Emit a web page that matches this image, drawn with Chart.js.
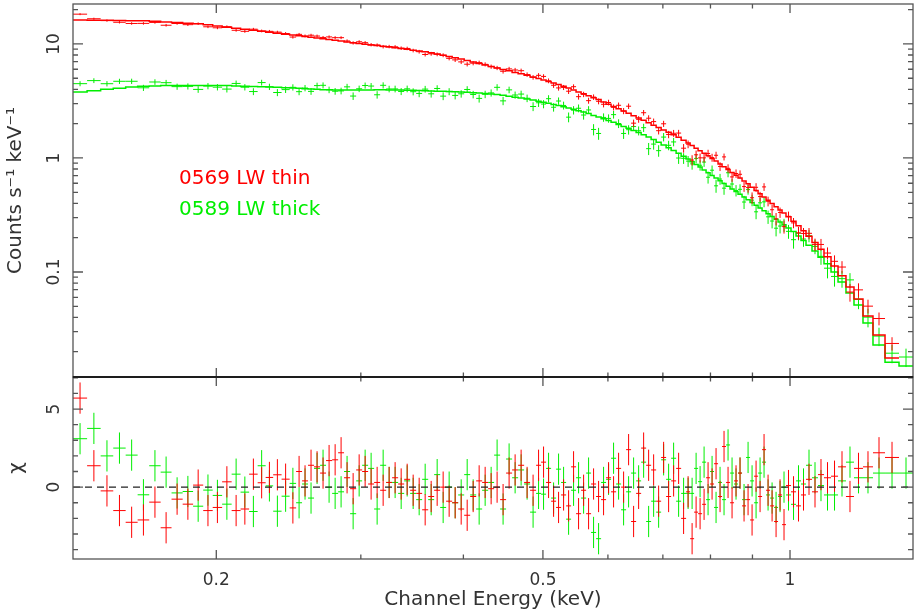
<!DOCTYPE html>
<html><head><meta charset="utf-8">
<script src="https://cdn.jsdelivr.net/npm/chart.js@4.4.0/dist/chart.umd.min.js"></script>
<style>
html,body{margin:0;padding:0;background:#fff;}
#wrap{position:relative;width:916px;height:616px;overflow:hidden;background:#fff;}
#topc{position:absolute;left:0;top:0;}
#botc{position:absolute;left:0;top:370px;}
</style></head><body>
<div id="wrap">
<canvas id="topc" width="916" height="380"></canvas>
<canvas id="botc" width="916" height="246"></canvas>
</div>
<script>
// ---- channel grid (bin edges, keV) ----
const binEdges = [
0.1338,0.1392,0.1446,0.1498,0.1551,0.1604,0.1657,0.1711,0.1764,0.1820,0.1874,0.1928,0.1980,0.2033,0.2088,0.2141,0.2193,0.2246,0.2297,0.2346,0.2402,0.2457,0.2502,
0.2544,0.2587,0.2631,0.2676,0.2721,0.2768,0.2815,0.2862,0.2911,0.2961,0.3011,0.3062,0.3114,0.3167,0.3221,0.3275,0.3331,0.3388,0.3445,0.3504,0.3563,0.3624,0.3685,0.3748,0.3811,0.3876,0.3942,0.4009,0.4077,0.4146,0.4216,0.4288,0.4360,0.4434,0.4509,0.4586,0.4664,0.4743,0.4823,0.4905,
0.4974,0.5044,0.5116,0.5188,0.5261,0.5336,0.5411,0.5487,0.5565,0.5644,0.5723,0.5804,0.5886,0.5969,0.6053,0.6139,0.6226,0.6314,0.6403,0.6494,0.6586,0.6679,0.6773,0.6869,0.6966,0.7064,0.7164,0.7265,0.7368,0.7471,
0.7556,0.7641,0.7727,0.7814,0.7902,0.7991,0.8081,0.8172,0.8264,0.8357,0.8452,0.8547,0.8643,0.8741,0.8840,0.8940,0.9041,0.9143,0.9246,0.9350,0.9456,0.9563,0.9670,0.9779,0.9888,
1.0028,1.0170,1.0313,1.0459,1.0636,1.0817,1.1000,1.1219,1.1442,1.1700,1.1966,1.2272,1.2621,1.3054,1.3577,1.4120];

// ---- 0569 LW thin (red) ----
const thinModel = [
16.21,16.14,16.11,16.04,15.98,15.95,15.82,15.60,15.41,15.19,15.01,14.71,14.36,14.04,13.73,13.43,13.16,12.90,12.67,12.41,12.17,11.97,
11.78,11.61,11.43,11.27,11.09,10.93,10.75,10.60,10.41,10.25,10.08,9.92,9.78,9.68,9.53,9.39,9.24,9.11,8.97,8.82,8.68,8.54,8.39,8.17,7.96,7.75,7.55,7.37,7.17,6.95,6.74,6.54,6.35,6.16,5.97,5.81,5.63,5.48,5.31,5.14,
4.97,4.82,4.68,4.54,4.40,4.26,4.10,3.95,3.79,3.65,3.51,3.38,3.25,3.10,2.96,2.83,2.70,2.58,2.47,2.35,2.24,2.14,2.04,1.94,1.85,1.76,1.68,1.60,1.52,1.43,
1.351,1.284,1.218,1.158,1.099,1.045,0.991,0.939,0.887,0.837,0.791,0.747,0.706,0.666,0.629,0.593,0.555,0.519,0.486,0.454,0.425,0.398,0.373,0.350,0.329,
0.305,0.278,0.254,0.2305,0.206,0.181,0.158,0.136,0.113,0.0925,0.0738,0.0579,0.0411,0.0280,0.0176,null];
const thinChi = [
5.7,1.37,-0.24,-1.5,-2.25,-2.1,-0.96,-2.6,-0.77,-1.09,0.13,-1.5,-1.3,0.34,-1.5,-1.4,0.83,0.28,0.62,0.79,0.51,-1.33,
1.0,0.4,1.4,1.3,0.9,1.7,1.75,2.2,0.6,-0.1,1.1,1.0,0.2,0.3,-0.2,0.3,0.6,0.2,0.5,-0.2,-0.4,-1.45,-0.6,-0.2,0.0,-0.9,-1.0,-1.4,-1.8,-0.6,0.4,0.3,-0.1,0.0,-0.8,0.9,1.1,1.4,0.3,-0.2,
1.4,1.6,0.3,-0.9,-1.3,-0.5,-1.2,1.3,-1.7,-0.2,-1.7,0.2,-0.6,-0.8,0.6,-0.3,1.2,0.0,2.4,-2.2,-0.4,2.5,1.4,1.1,-0.9,1.9,-0.6,0.4,1.2,-2.0,
-0.3,-3.3,-1.6,-1.7,-1.1,0.6,0.2,1.5,-0.6,2.6,0.3,-1.0,0.4,0.9,-1.2,-0.8,-2.1,0.7,-0.6,2.4,-0.2,-1.2,-2.2,-0.5,-2.4,
0.1,-0.3,-1.2,-0.5,0.5,-0.3,0.8,0.6,0.7,1.3,-0.6,1.2,1.3,2.2,1.9,null];
const thinErr = [
0.022,0.022,0.023,0.023,0.024,0.024,0.025,0.025,0.025,0.026,0.026,0.026,0.027,0.027,0.027,0.028,0.028,0.028,0.029,0.029,0.029,0.030,
0.030,0.030,0.031,0.031,0.031,0.032,0.032,0.032,0.033,0.033,0.033,0.034,0.034,0.034,0.035,0.035,0.035,0.036,0.036,0.036,0.037,0.037,0.038,0.038,0.039,0.039,0.040,0.040,0.041,0.041,0.042,0.042,0.043,0.043,0.044,0.044,0.045,0.045,0.046,0.046,
0.048,0.048,0.049,0.049,0.050,0.050,0.051,0.052,0.053,0.054,0.055,0.056,0.057,0.058,0.059,0.060,0.061,0.062,0.063,0.064,0.065,0.066,0.067,0.068,0.069,0.070,0.071,0.072,0.073,0.074,
0.076,0.077,0.078,0.079,0.080,0.081,0.082,0.083,0.084,0.085,0.086,0.087,0.088,0.089,0.090,0.091,0.092,0.093,0.094,0.095,0.096,0.097,0.098,0.099,0.100,
0.10,0.10,0.11,0.11,0.12,0.12,0.13,0.13,0.14,0.15,0.16,0.17,0.17,0.18,0.18,null];

// ---- 0589 LW thick (green) ----
const thickModel = [
3.78,3.89,4.00,4.09,4.19,4.25,4.28,4.32,4.32,4.32,4.32,4.32,4.32,4.31,4.28,4.26,4.24,4.22,4.19,4.16,4.13,4.10,
4.08,4.05,4.02,4.00,3.97,3.96,3.95,3.95,3.94,3.94,3.94,3.95,3.95,3.96,3.96,3.95,3.95,3.94,3.93,3.92,3.90,3.88,3.87,3.85,3.84,3.82,3.81,3.79,3.77,3.74,3.71,3.67,3.64,3.61,3.54,3.48,3.41,3.35,3.29,3.23,
3.15,3.08,3.02,2.95,2.89,2.82,2.74,2.67,2.60,2.53,2.45,2.36,2.29,2.21,2.13,2.06,1.97,1.89,1.82,1.74,1.67,1.60,1.53,1.45,1.375,1.30,1.23,1.165,1.10,1.036,
0.979,0.927,0.878,0.832,0.784,0.743,0.703,0.667,0.632,0.598,0.566,0.535,0.507,0.480,0.454,0.430,0.407,0.384,0.364,0.344,0.325,0.307,0.290,0.274,0.259,
0.243,0.227,0.207,0.189,0.172,0.153,0.135,0.118,0.0999,0.0816,0.0654,0.0513,0.0357,0.0229,0.0162,0.0150];
const thickChi = [
3.1,3.76,2.0,2.5,2.05,-0.49,1.37,0.96,-0.37,-0.28,-1.22,-0.19,-0.53,-1.09,0.83,-0.32,-1.56,1.37,0.08,-1.54,-0.58,0.24,
-1.0,0.2,-0.7,1.2,1.4,0.0,-0.4,-0.3,1.0,-1.7,0.4,1.4,1.2,-1.4,1.4,0.3,0.3,-0.4,0.4,-0.4,-0.8,0.5,-0.8,0.8,-1.3,0.0,-1.0,-0.5,0.8,-0.5,-1.4,-0.2,0.3,2.05,-1.4,1.8,0.6,1.1,0.2,-1.6,
-0.4,-0.45,1.2,-0.7,1.15,0.3,-2.05,-0.2,0.6,-0.7,0.9,-2.9,-3.3,0.3,0.5,1.85,0.2,-1.45,-0.3,0.9,0.4,1.6,-2.2,-0.9,-1.6,1.75,0.5,1.85,-0.9,-0.4,
-0.4,-0.4,1.2,0.35,1.6,-0.8,1.0,-1.3,0.3,-0.8,2.7,0.9,0.2,0.9,-0.8,1.9,0.4,-1.0,0.9,1.6,-0.5,-0.7,-1.3,-0.6,0.0,
-0.5,-1.1,0.4,0.2,1.4,0.6,0.1,-0.5,-0.5,0.4,1.6,0.6,0.6,0.9,0.9,0.9];
const thickErr = [
0.060,0.060,0.060,0.060,0.060,0.060,0.061,0.061,0.061,0.061,0.062,0.062,0.062,0.062,0.063,0.063,0.063,0.063,0.064,0.064,0.064,0.064,
0.065,0.065,0.065,0.065,0.066,0.066,0.066,0.066,0.067,0.067,0.067,0.067,0.068,0.068,0.068,0.068,0.069,0.069,0.069,0.069,0.070,0.070,0.070,0.071,0.071,0.071,0.072,0.072,0.072,0.073,0.073,0.074,0.074,0.075,0.075,0.076,0.076,0.077,0.077,0.078,
0.079,0.079,0.080,0.080,0.081,0.081,0.082,0.083,0.083,0.084,0.085,0.085,0.086,0.087,0.088,0.089,0.090,0.091,0.092,0.093,0.094,0.095,0.096,0.097,0.098,0.099,0.100,0.101,0.102,0.103,
0.105,0.106,0.107,0.108,0.109,0.110,0.111,0.112,0.113,0.114,0.115,0.116,0.117,0.118,0.119,0.120,0.121,0.122,0.123,0.124,0.125,0.126,0.127,0.128,0.130,
0.13,0.14,0.14,0.15,0.15,0.16,0.16,0.17,0.17,0.18,0.19,0.20,0.21,0.22,0.22,0.22];

// ---- axes ----
const xRange = [0.1338, 1.412];
const countRange = [0.012, 22.4];
const chiRange = [-4.6, 7.05];
const xMajor = [0.2, 0.5, 1];
const xMinor = [0.3, 0.4, 0.6, 0.7, 0.8, 0.9];
const countMajor = [0.1, 1, 10];
const countMinor = [0.02,0.03,0.04,0.05,0.06,0.07,0.08,0.09,0.2,0.3,0.4,0.5,0.6,0.7,0.8,0.9,2,3,4,5,6,7,8,9,20];
const chiMajor = [0, 5];
const chiMinor = [-4,-3,-2,-1,1,2,3,4,6,7];
const seriesNames = ['0569 LW thin', '0589 LW thick'];
const xTitle = 'Channel Energy (keV)';
const countTitle = 'Counts s\u207B\u00B9 keV\u207B\u00B9';
const chiTitle = '\u03C7';

const RED = '#ff0000', GREEN = '#00ee00', INK = '#333333', FRAME = '#555555';
const FONT = 'DejaVu Sans';

// ---- build point lists from the arrays ----
function centre(i){ return Math.sqrt(binEdges[i]*binEdges[i+1]); }
function crossPoints(vals, sig){
  const pts = [];
  for (let i=0;i<vals.length;i++){
    if (vals[i]==null) continue;
    const lo=binEdges[i], hi=binEdges[i+1], c=centre(i), v=vals[i], s=sig[i];
    pts.push({x:lo,y:v},{x:hi,y:v},{x:hi,y:null},{x:c,y:v-s},{x:c,y:v+s},{x:c,y:null});
  }
  return pts;
}
function stepPoints(vals){
  const pts = [];
  for (let i=0;i<vals.length;i++){
    if (vals[i]==null){ pts.push({x:binEdges[i],y:null}); continue; }
    pts.push({x:binEdges[i],y:vals[i]},{x:binEdges[i+1],y:vals[i]});
  }
  return pts;
}
function counts(model, chi, err){ return model.map((m,i)=> m==null?null: m*(1+chi[i]*err[i])); }
function sigmas(model, err){ return model.map((m,i)=> m==null?null: m*err[i]); }
const unitSig = thinChi.map(()=>1);

const thinCounts = counts(thinModel, thinChi, thinErr);
const thickCounts = counts(thickModel, thickChi, thickErr);

function lineDs(data, color, width, extra){
  return Object.assign({type:'line', data, borderColor:color, backgroundColor:color, borderWidth:width,
    pointRadius:0, pointHoverRadius:0, pointHitRadius:0, fill:false, tension:0, spanGaps:false}, extra||{});
}

function framePlugin(opt){
  return {
    id: 'pgframe',
    afterDraw(chart){
      const ctx = chart.ctx, a = chart.chartArea;
      const xs = chart.scales.x, ys = chart.scales.y;
      ctx.save();
      ctx.strokeStyle = FRAME; ctx.lineWidth = 1.3;
      ctx.strokeRect(a.left, a.top, a.right-a.left, a.bottom-a.top);
      ctx.beginPath();
      const xt = (v,len)=>{ const p=xs.getPixelForValue(v);
        ctx.moveTo(p,a.top); ctx.lineTo(p,a.top+len); ctx.moveTo(p,a.bottom); ctx.lineTo(p,a.bottom-len); };
      const yt = (v,len)=>{ const p=ys.getPixelForValue(v);
        ctx.moveTo(a.left,p); ctx.lineTo(a.left+len,p); ctx.moveTo(a.right,p); ctx.lineTo(a.right-len,p); };
      xMajor.forEach(v=>xt(v,9)); xMinor.forEach(v=>xt(v,4.5));
      opt.yMajor.forEach(v=>yt(v,10)); opt.yMinor.forEach(v=>yt(v,5));
      ctx.stroke();
      if (opt.divider){
        ctx.strokeStyle = '#111'; ctx.lineWidth = 1.6;
        ctx.beginPath();
        const y = opt.divider==='bottom'? a.bottom : a.top;
        ctx.moveTo(a.left,y); ctx.lineTo(a.right,y); ctx.stroke();
      }
      // rotated y tick labels
      ctx.fillStyle = INK; ctx.font = '17px "'+FONT+'"';
      ctx.textAlign = 'center'; ctx.textBaseline = 'middle';
      opt.yLabels.forEach(v=>{
        const p = ys.getPixelForValue(v);
        ctx.save(); ctx.translate(54.5, p); ctx.rotate(-Math.PI/2);
        ctx.fillText(String(v), 0, 0); ctx.restore();
      });
      if (opt.legend){
        ctx.font = '20px "'+FONT+'"'; ctx.textAlign='left'; ctx.textBaseline='alphabetic';
        ctx.fillStyle = RED; ctx.fillText(seriesNames[0], 179, 184);
        ctx.fillStyle = GREEN; ctx.fillText(seriesNames[1], 179, 215);
      }
      ctx.restore();
    }
  };
}

Chart.defaults.font.family = FONT;
Chart.defaults.color = INK;

// ---- top panel: spectra ----
new Chart(document.getElementById('topc'), {
  data: { datasets: [
    lineDs(crossPoints(thinCounts, sigmas(thinModel, thinErr)), RED, 1),
    lineDs(stepPoints(thinModel), RED, 1.5),
    lineDs(crossPoints(thickCounts, sigmas(thickModel, thickErr)), GREEN, 1),
    lineDs(stepPoints(thickModel), GREEN, 1.5)
  ]},
  options: {
    responsive:false, animation:false, events:[],
    layout:{padding:{top:4,right:3,bottom:3,left:0}},
    plugins:{legend:{display:false}, tooltip:{enabled:false}},
    scales:{
      x:{type:'logarithmic', display:false, min:xRange[0], max:xRange[1], bounds:'data'},
      y:{type:'logarithmic', min:countRange[0], max:countRange[1], bounds:'data',
         ticks:{display:false}, grid:{display:false}, border:{display:false},
         title:{display:true, text:countTitle, color:INK, font:{size:20, family:FONT}, padding:{top:4,bottom:0}},
         afterFit(s){ s.width = 73; }}
    }
  },
  plugins:[framePlugin({yMajor:countMajor, yMinor:countMinor, yLabels:countMajor, legend:true, divider:'bottom'})]
});

// ---- bottom panel: residuals ----
new Chart(document.getElementById('botc'), {
  data: { datasets: [
    lineDs([{x:xRange[0],y:0},{x:xRange[1],y:0}], '#222', 1.2, {borderDash:[7,5]}),
    lineDs(crossPoints(thinChi, unitSig), RED, 1),
    lineDs(crossPoints(thickChi, unitSig), GREEN, 1)
  ]},
  options: {
    responsive:false, animation:false, events:[],
    layout:{padding:{top:7,right:3,bottom:0,left:0}},
    plugins:{legend:{display:false}, tooltip:{enabled:false}},
    scales:{
      x:{type:'logarithmic', min:xRange[0], max:xRange[1], bounds:'data',
         grid:{display:false}, border:{display:false},
         afterBuildTicks(s){ s.ticks = xMajor.map(v=>({value:v})); },
         ticks:{autoSkip:false, maxRotation:0, minRotation:0, padding:3, color:INK, font:{size:17, family:FONT},
                callback:(v)=>String(v)},
         title:{display:true, text:xTitle, color:INK, font:{size:20, family:FONT}, padding:{top:0,bottom:4}},
         afterFit(s){ s.height = 57; }},
      y:{type:'linear', min:chiRange[0], max:chiRange[1], bounds:'data',
         ticks:{display:false}, grid:{display:false}, border:{display:false},
         title:{display:true, text:chiTitle, color:INK, font:{size:20, family:FONT}, padding:{top:5,bottom:0}},
         afterFit(s){ s.width = 73; }}
    }
  },
  plugins:[framePlugin({yMajor:chiMajor, yMinor:chiMinor, yLabels:chiMajor, legend:false, divider:'top'})]
});
</script>
</body></html>
